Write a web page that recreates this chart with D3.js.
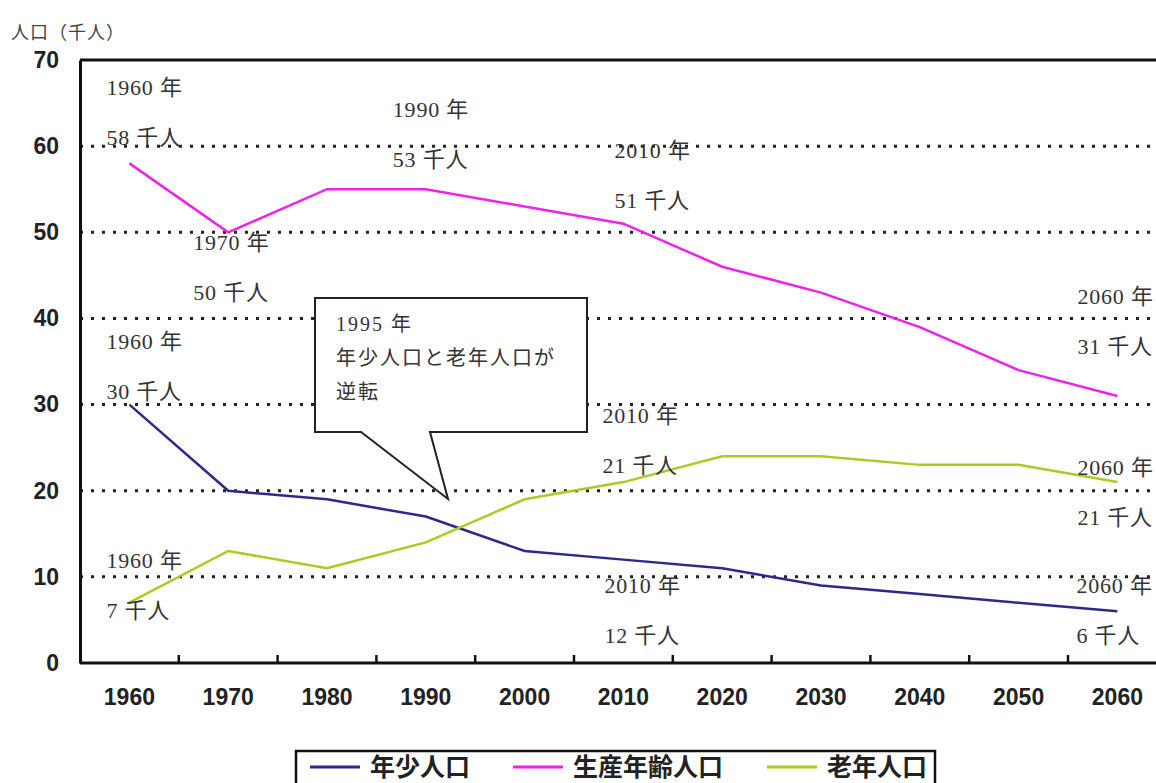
<!DOCTYPE html>
<html>
<head>
<meta charset="utf-8">
<script src="https://cdn.jsdelivr.net/npm/d3@7"></script>
<style>
  body { margin: 0; background: #fff; }
  svg { display: block; }
</style>
</head>
<body>
<script>
/* population by age group, 1960-2060 (thousand people) */
var years = ["1960","1970","1980","1990","2000","2010","2020","2030","2040","2050","2060"];
var youth   = [30, 20, 19, 17, 13, 12, 11, 9, 8, 7, 6];
var working = [58, 50, 55, 55, 53, 51, 46, 43, 39, 34, 31];
var elderly = [7, 13, 11, 14, 19, 21, 24, 24, 23, 23, 21];
var yTicks  = [0, 10, 20, 30, 40, 50, 60, 70];

var seriesNames  = ["年少人口", "生産年齢人口", "老年人口"];
var seriesColors = ["#2a2a8c", "#ee22ee", "#aacc22"];

/* point labels: year, first line, second line, x shift from band centre, y (data units) */
var notes = [
  ["1960", "1960 年", "58 千人", -23, 65.9],
  ["1990", "1990 年", "53 千人", -33, 63.4],
  ["2010", "2010 年", "51 千人", -9, 58.6],
  ["1970", "1970 年", "50 千人", -35, 47.9],
  ["2060", "2060 年", "31 千人", -40, 41.7],
  ["1960", "1960 年", "30 千人", -23, 36.5],
  ["2010", "2010 年", "21 千人", -21, 27.9],
  ["2060", "2060 年", "21 千人", -40, 21.8],
  ["1960", "1960 年", "7 千人", -23, 11.0],
  ["2010", "2010 年", "12 千人", -19, 8.1],
  ["2060", "2060 年", "6 千人", -41, 8.1]
];
var calloutLines = ["1995 年", "年少人口と老年人口が", "逆転"];

var W = 1156, H = 783;
var pLeft = 80, pTop = 60, pBottom = 663;

var svg = d3.select("body").append("svg")
            .attr("width", W)
            .attr("height", H);

var x = d3.scaleBand()
          .domain(years)
          .range([pLeft, pLeft + 11 * 98.8])
          .padding(0);
var y = d3.scaleLinear()
          .domain([0, 70])
          .range([pBottom, pTop]);
var cx = function(yr) { return x(yr) + x.bandwidth() / 2; };

/* dotted grid lines */
svg.append("g")
   .selectAll("line")
   .data(yTicks.filter(function(d) { return d > 0 && d < 70; }))
   .enter()
   .append("line")
   .attr("x1", pLeft)
   .attr("x2", W)
   .attr("y1", function(d) { return y(d); })
   .attr("y2", function(d) { return y(d); })
   .style("stroke", "#222")
   .style("stroke-width", 3)
   .style("stroke-dasharray", "3,8");

/* frame: top border, left axis, bottom axis */
svg.append("line")
   .attr("x1", pLeft).attr("x2", W)
   .attr("y1", y(70)).attr("y2", y(70))
   .style("stroke", "#111").style("stroke-width", 3);

var yAxis = svg.append("g")
               .attr("transform", "translate(" + pLeft + ",0)")
               .call(d3.axisLeft(y).tickValues(yTicks).tickSize(0).tickPadding(21));
yAxis.select(".domain").style("stroke", "#111").style("stroke-width", 3);
yAxis.selectAll("text")
     .style("font-family", "'Liberation Sans', Arial, sans-serif")
     .style("font-weight", "bold")
     .style("font-size", "23px")
     .style("fill", "#222");

var xAxis = svg.append("g")
               .attr("transform", "translate(0," + pBottom + ")")
               .call(d3.axisBottom(x).tickSize(0).tickPadding(26));
xAxis.select(".domain").remove();
xAxis.selectAll("text")
     .style("font-family", "'Liberation Sans', Arial, sans-serif")
     .style("font-weight", "bold")
     .style("font-size", "23px")
     .style("fill", "#222");

svg.append("line")
   .attr("x1", pLeft).attr("x2", W)
   .attr("y1", pBottom).attr("y2", pBottom)
   .style("stroke", "#111").style("stroke-width", 3);

/* tick marks between categories, pointing inward */
svg.append("g")
   .selectAll("line")
   .data(years)
   .enter()
   .append("line")
   .attr("x1", function(d) { return x(d) + x.bandwidth(); })
   .attr("x2", function(d) { return x(d) + x.bandwidth(); })
   .attr("y1", pBottom)
   .attr("y2", pBottom - 8)
   .style("stroke", "#111")
   .style("stroke-width", 2.5);

/* series lines */
var allSeries = [youth, working, elderly];
var line = d3.line()
             .x(function(d, i) { return cx(years[i]); })
             .y(function(d) { return y(d); });

svg.append("g")
   .selectAll("path")
   .data(allSeries)
   .enter()
   .append("path")
   .attr("d", function(d) { return line(d); })
   .style("fill", "none")
   .style("stroke", function(d, i) { return seriesColors[i]; })
   .style("stroke-width", 2.5);

/* point labels */
var labelFont = "'Liberation Serif', 'Noto Sans CJK JP', serif";
var nt = svg.append("g")
            .selectAll("g")
            .data(notes)
            .enter()
            .append("g");
nt.append("text")
  .attr("x", function(d) { return cx(d[0]) + d[3]; })
  .attr("y", function(d) { return y(d[4]); })
  .text(function(d) { return d[1]; });
nt.append("text")
  .attr("x", function(d) { return cx(d[0]) + d[3]; })
  .attr("y", function(d) { return y(d[4]) + 50; })
  .text(function(d) { return d[2]; });
nt.selectAll("text")
  .style("font-family", labelFont)
  .style("font-size", "22px")
  .style("letter-spacing", "0.8px")
  .style("fill", "#333");

/* callout for 1995 crossover */
var co = svg.append("g");
co.append("path")
  .attr("d", "M315,298 H587 V432 H430 L448,499 L361,432 H315 Z")
  .style("fill", "#fff")
  .style("stroke", "#222")
  .style("stroke-width", 2);
co.selectAll("text")
  .data(calloutLines)
  .enter()
  .append("text")
  .attr("x", 336)
  .attr("y", function(d, i) { return 331 + i * 34; })
  .text(function(d) { return d; })
  .style("font-family", labelFont)
  .style("font-size", "20px")
  .style("letter-spacing", "2px")
  .style("fill", "#333");

/* y title */
svg.append("text")
   .attr("x", 11)
   .attr("y", 39)
   .text("人口（千人）")
   .style("font-family", "'Noto Sans CJK JP', sans-serif")
   .style("font-size", "18px")
   .style("letter-spacing", "1px")
   .style("fill", "#444");

/* legend */
var lg = svg.append("g");
lg.append("rect")
  .attr("x", 296).attr("y", 751)
  .attr("width", 639).attr("height", 50)
  .style("fill", "#fff")
  .style("stroke", "#111")
  .style("stroke-width", 2.5);
var legX = [310, 513, 767];
var li = lg.selectAll("g.item")
           .data(seriesNames)
           .enter()
           .append("g")
           .attr("class", "item")
           .attr("transform", function(d, i) { return "translate(" + legX[i] + ",0)"; });
li.append("line")
  .attr("x1", 0).attr("x2", 50)
  .attr("y1", 767).attr("y2", 767)
  .style("stroke", function(d, i) { return seriesColors[i]; })
  .style("stroke-width", 3);
li.append("text")
  .attr("x", 60)
  .attr("y", 776)
  .text(function(d) { return d; })
  .style("font-family", "'Noto Sans CJK JP', sans-serif")
  .style("font-weight", "bold")
  .style("font-size", "25px")
  .style("fill", "#222");
</script>
</body>
</html>
